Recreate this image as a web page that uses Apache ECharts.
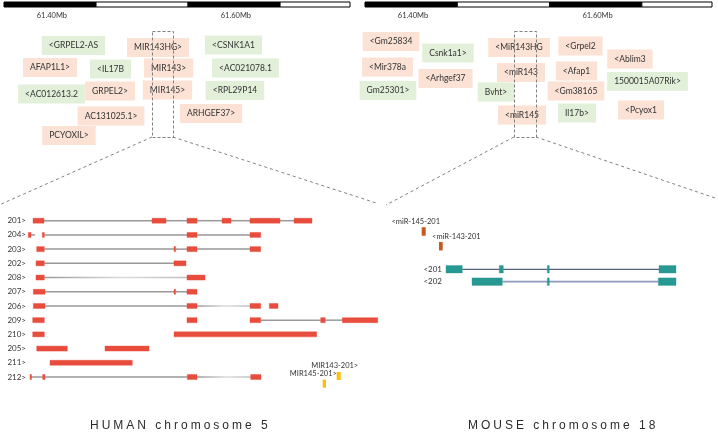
<!DOCTYPE html>
<html><head><meta charset="utf-8">
<script src="https://cdn.jsdelivr.net/npm/echarts@6/dist/echarts.min.js"></script>
<style>html,body{margin:0;padding:0;background:#fff}#c{width:718px;height:433px}</style>
</head><body><div id="c"></div>
<script>
// ================= DATA =================
// scale bar segments (kb on chromosome), alternating black / white
const scaleSegmentsKb = [[61348, 61448], [61448, 61548], [61548, 61648], [61648, 61724]];
const scaleTicksKb = [61400, 61600];

// neighbouring genes: [label, position (kb), display tier]
const humanGenes = [
  ['<GRPEL2-AS', 61423.5, 2.55], ['MIR143HG>', 61515.4, 2.75], ['<CSNK1A1', 61597.4, 2.5],
  ['AFAP1L1>', 61398.0, 4.75], ['<IL17B', 61463.7, 4.9], ['MIR143>', 61526.8, 4.8],
  ['<AC021078.1', 61610.4, 4.8], ['<AC012613.2', 61399.6, 7.4], ['GRPEL2>', 61463.2, 7.1],
  ['MIR145>', 61525.7, 7.0], ['<RPL29P14', 61599.0, 7.05], ['AC131025.1>', 61464.3, 9.6],
  ['ARHGEF37>', 61573.0, 9.35], ['PCYOXIL>', 61418.6, 11.55]
];
const mouseGenes = [
  ['<Gm25834', 61376.2, 2.15], ['Csnk1a1>', 61437.9, 3.3], ['<MiR143HG', 61514.9, 2.75],
  ['<Grpel2', 61581.5, 2.6], ['<Ablim3', 61635.1, 3.9], ['<Mir378a', 61372.4, 4.7],
  ['<Arhgef37', 61435.2, 5.85], ['<miR143', 61517.0, 5.25], ['<Afap1', 61577.2, 5.1],
  ['1500015A07Rik>', 61654.1, 6.15], ['Gm25301>', 61372.9, 7.05], ['Bvht>', 61489.9, 7.2],
  ['<Gm38165', 61576.6, 7.1], ['Il17b>', 61577.7, 9.3], ['<Pcyox1', 61647.1, 9.0],
  ['<miR145', 61518.1, 9.5]
];
// zoomed region (kb range, tier range)
const humanFocusKb = [61508.8, 61531.6];
const mouseFocusKb = [61509.4, 61533.3];
const focusTier = [1.1, 11.7];

// human transcripts (kb within zoomed region)
const humanTranscripts = ['201>', '204>', '203>', '202>', '208>', '207>', '206>', '209>', '210>', '205>', '211>', '212>'];
const humanExons = [
  [[0.5, 1.6], [12.4, 13.8], [15.9, 16.9], [19.4, 20.3], [22.2, 25.2], [26.6, 28.4]],
  [[0.03, 0.3], [1.43, 1.63], [15.9, 16.9], [22.2, 23.27]],
  [[0.87, 1.63], [14.6, 14.77], [15.9, 16.9], [22.2, 23.27]],
  [[0.8, 1.63], [14.6, 15.8]],
  [[0.8, 1.63], [15.9, 17.7]],
  [[0.53, 1.7], [14.6, 14.77], [15.9, 16.9]],
  [[0.53, 1.7], [15.9, 16.9], [22.2, 23.27], [24.13, 25.0]],
  [[0.47, 1.63], [15.9, 16.9], [22.2, 23.27], [29.27, 29.73], [31.43, 34.97]],
  [[0.47, 1.63], [14.6, 28.87]],
  [[0.87, 3.93], [7.7, 12.1]],
  [[2.2, 10.43]],
  [[0.2, 0.3], [1.47, 1.7], [15.93, 16.9], [22.27, 23.3]]
];
const humanIntrons = [
  [[1.6, 12.4], [13.8, 15.9], [16.9, 19.4], [20.3, 22.2], [25.2, 26.6]],
  [[0.3, 0.7], [1.63, 15.9], [16.9, 22.2]],
  [[1.63, 14.6], [14.77, 15.9], [16.9, 22.2]],
  [[1.63, 14.6]],
  [[1.63, 15.9]],
  [[1.7, 14.6], [14.77, 15.9]],
  [[1.7, 15.9], [16.9, 22.2]],
  [[23.27, 29.27], [29.73, 31.43]],
  [], [], [],
  [[0.3, 1.47], [1.7, 15.93], [16.9, 22.27]]
];
const fadeRows = ['208>', '206>', '212>'];
// human miRNAs: [label, start, end, track]
const humanMirnas = [['MIR143-201>', 30.87, 31.27, 10.93], ['MIR145-201>', 29.47, 29.8, 11.47]];

// mouse
const mouseMirnas = [['<miR-145-201', 0.17, 0.57, 1.64], ['<miR-143-201', 1.9, 2.27, 3.74]];
const mouseTranscripts = ['<201', '<202'];
const mouseTrack = [7.04, 8.81];
const mouseExons = [
  [[2.6, 4.23], [7.93, 8.33], [12.73, 12.93], [23.9, 25.6]],
  [[5.2, 8.23], [12.73, 12.93], [23.83, 25.6]]
];
const mouseIntrons = [[[4.23, 23.9]], [[8.23, 23.83]]];

const titles = ['HUMAN chromosome 5', 'MOUSE chromosome 18'];

// ================= CHART =================
const chart = echarts.init(document.getElementById('c'), null, {renderer: 'canvas'});
const PINK = '#FBE2D5', GREEN = '#E2EFD9', TXT = '#333333', FONT = 'Lato';
const EXON = '#E84C3D', TEAL = '#279892';

function hidden(extra) {
  return Object.assign({axisLine: {show: false}, axisTick: {show: false}, splitLine: {show: false}, axisLabel: {show: false}}, extra);
}
const kbMin = scaleSegmentsKb[0][0], kbMax = scaleSegmentsKb[scaleSegmentsKb.length - 1][1];
function scaleAxis(g) {
  return {type: 'value', gridIndex: g, min: kbMin, max: kbMax, axisLine: {show: false}, axisTick: {show: false}, splitLine: {show: false},
    axisLabel: {customValues: scaleTicksKb, formatter: v => (v / 1000).toFixed(2) + 'Mb', fontSize: 7.5, fontFamily: FONT, color: '#333', margin: 4.5}};
}
const scaleData = scaleSegmentsKb.map((s, i) => [s[0], s[1], i]);
function scaleSeries(ax) {
  return {type: 'custom', xAxisIndex: ax, yAxisIndex: ax, data: scaleData, encode: {x: [0, 1]},
    renderItem: (p, api) => {
      const a = api.coord([api.value(0), 1]), b = api.coord([api.value(1), 0]);
      return {type: 'rect', shape: {x: a[0], y: a[1], width: b[0] - a[0], height: b[1] - a[1]},
        style: {fill: api.value(2) % 2 ? '#fff' : '#000', stroke: '#000', lineWidth: 1}};
    }};
}
function geneSeries(genes, ax, isMouse) {
  return {type: 'custom', xAxisIndex: ax, yAxisIndex: ax, z: 2,
    data: genes.map(g => [g[1], g[2]]), encode: {x: 0, y: 1},
    renderItem: (p, api) => {
      const c = api.coord([api.value(0), api.value(1)]);
      const name = genes[p.dataIndex][0];
      const minus = name.charAt(0) === '<';
      return {type: 'text', x: c[0], y: c[1], style: {text: name, fontSize: 8.5, fontFamily: FONT, fill: TXT,
        align: 'center', verticalAlign: 'middle', lineHeight: 10, padding: [4.5, 7],
        backgroundColor: (minus === isMouse) ? PINK : GREEN}};
    }};
}
function focusSeries(kb, ax) {
  return {type: 'custom', xAxisIndex: ax, yAxisIndex: ax, z: 5, data: [[kb[0], kb[1], focusTier[0], focusTier[1]]], encode: {x: [0, 1], y: [2, 3]},
    renderItem: (p, api) => {
      const a = api.coord([api.value(0), api.value(2)]), b = api.coord([api.value(1), api.value(3)]);
      return {type: 'rect', shape: {x: Math.round(a[0]) + 0.5, y: Math.round(a[1]) + 0.5, width: Math.round(b[0] - a[0]), height: Math.round(b[1] - a[1])},
        style: {fill: 'none', stroke: '#7f7f7f', lineWidth: 1, lineDash: [3, 2]}};
    }};
}

// flatten human data
const hExonData = [], hIntronData = [];
humanExons.forEach((list, r) => list.forEach(e => hExonData.push([e[0], e[1], r])));
humanIntrons.forEach((list, r) => list.forEach((e, k) => hIntronData.push([e[0], e[1], r, (fadeRows.includes(humanTranscripts[r]) && k === list.length - 1) ? 1 : 0])));
const mExonData = [], mIntronData = [];
mouseExons.forEach((list, r) => list.forEach(e => mExonData.push([e[0], e[1], mouseTrack[r]])));
mouseIntrons.forEach((list, r) => list.forEach(e => mIntronData.push([e[0], e[1], mouseTrack[r], r])));
const mouseLabelAnchor = Math.min(...mouseExons.map(l => l[0][0]));

function spaced(s) { return s.split('').join('\u2005'); }

const option = {
  animation: false,
  backgroundColor: '#fff',
  title: [
    {text: spaced(titles[0]), left: 90, top: 420, textStyle: {fontSize: 12, fontWeight: 'normal', fontFamily: 'Liberation Sans', color: '#2b2b2b'}, padding: 0},
    {text: spaced(titles[1]), left: 468, top: 420, textStyle: {fontSize: 12, fontWeight: 'normal', fontFamily: 'Liberation Sans', color: '#2b2b2b'}, padding: 0}
  ],
  grid: [
    {left: 4, top: 2, width: 346, height: 5},
    {left: 365, top: 2, width: 347, height: 5},
    {left: 4, top: 20, width: 346, height: 130},
    {left: 365, top: 20, width: 347, height: 130},
    {left: 28, top: 213.6, width: 350, height: 170.5},
    {left: 420, top: 220, width: 260, height: 70}
  ],
  xAxis: [
    scaleAxis(0), scaleAxis(1),
    hidden({type: 'value', gridIndex: 2, min: kbMin, max: kbMax}),
    hidden({type: 'value', gridIndex: 3, min: kbMin, max: kbMax}),
    hidden({type: 'value', gridIndex: 4, min: 0, max: 35}),
    hidden({type: 'value', gridIndex: 5, min: 0, max: 26})
  ],
  yAxis: [
    hidden({type: 'value', gridIndex: 0, min: 0, max: 1}),
    hidden({type: 'value', gridIndex: 1, min: 0, max: 1}),
    hidden({type: 'value', gridIndex: 2, min: 0, max: 13, inverse: true}),
    hidden({type: 'value', gridIndex: 3, min: 0, max: 13, inverse: true}),
    {type: 'category', gridIndex: 4, data: humanTranscripts, inverse: true, axisLine: {show: false}, axisTick: {show: false}, splitLine: {show: false},
      axisLabel: {fontSize: 8, fontFamily: FONT, color: '#333', margin: 2, interval: 0}},
    hidden({type: 'value', gridIndex: 4, min: -0.5, max: 11.5, inverse: true}),
    hidden({type: 'value', gridIndex: 5, min: 0, max: 10, inverse: true})
  ],
  series: [
    scaleSeries(0), scaleSeries(1),
    geneSeries(humanGenes, 2, false), geneSeries(mouseGenes, 3, true),
    focusSeries(humanFocusKb, 2), focusSeries(mouseFocusKb, 3),
    // human introns
    {type: 'custom', xAxisIndex: 4, yAxisIndex: 4, z: 2, data: hIntronData, encode: {x: [0, 1], y: 2},
      renderItem: (p, api) => {
        const a = api.coord([api.value(0), api.value(2)]), b = api.coord([api.value(1), api.value(2)]);
        const fade = api.value(3) === 1;
        const stroke = fade ? {type: 'linear', x: 0, y: 0, x2: 1, y2: 0, colorStops: [{offset: 0, color: '#9a9a9a'}, {offset: 0.55, color: '#dcdcdc'}, {offset: 1, color: '#bdbdbd'}]} : '#999';
        return {type: 'rect', shape: {x: a[0], y: a[1] - 0.75, width: b[0] - a[0], height: 1.5}, style: {fill: stroke}};
      }},
    // human exons
    {type: 'custom', xAxisIndex: 4, yAxisIndex: 4, z: 3, data: hExonData, encode: {x: [0, 1], y: 2},
      renderItem: (p, api) => {
        const a = api.coord([api.value(0), api.value(2)]), b = api.coord([api.value(1), api.value(2)]);
        return {type: 'rect', shape: {x: a[0], y: a[1] - 2.5, width: Math.max(1.5, b[0] - a[0]), height: 5},
          style: {fill: EXON, stroke: 'rgba(232,76,61,0.4)', lineWidth: 1}};
      }},
    // human miRNAs
    {type: 'custom', xAxisIndex: 4, yAxisIndex: 5, z: 3, data: humanMirnas.map(m => [m[1], m[2], m[3]]), encode: {x: [0, 1], y: 2},
      renderItem: (p, api) => {
        const a = api.coord([api.value(0), api.value(2)]), b = api.coord([api.value(1), api.value(2)]);
        const dx = [-4, -11][p.dataIndex];
        return {type: 'group', children: [
          {type: 'rect', shape: {x: a[0], y: a[1] - 4, width: b[0] - a[0], height: 8}, style: {fill: '#FFC000'}},
          {type: 'text', x: (a[0] + b[0]) / 2 + dx, y: a[1] - 6, style: {text: humanMirnas[p.dataIndex][0], fontSize: 7.5, fontFamily: FONT, fill: TXT, align: 'center', verticalAlign: 'bottom'}}
        ]};
      }},
    // mouse miRNAs
    {type: 'custom', xAxisIndex: 5, yAxisIndex: 6, z: 3, data: mouseMirnas.map(m => [m[1], m[2], m[3]]), encode: {x: [0, 1], y: 2},
      renderItem: (p, api) => {
        const a = api.coord([api.value(0), api.value(2)]), b = api.coord([api.value(1), api.value(2)]);
        const dx = [-8, 15.5][p.dataIndex];
        return {type: 'group', children: [
          {type: 'rect', shape: {x: a[0], y: a[1] - 4.25, width: b[0] - a[0], height: 8.5}, style: {fill: '#C65A1E'}},
          {type: 'text', x: (a[0] + b[0]) / 2 + dx, y: a[1] - 6, style: {text: mouseMirnas[p.dataIndex][0], fontSize: 7.5, fontFamily: FONT, fill: TXT, align: 'center', verticalAlign: 'bottom'}}
        ]};
      }},
    // mouse introns
    {type: 'custom', xAxisIndex: 5, yAxisIndex: 6, z: 2, data: mIntronData, encode: {x: [0, 1], y: 2},
      renderItem: (p, api) => {
        const a = api.coord([api.value(0), api.value(2)]), b = api.coord([api.value(1), api.value(2)]);
        const second = api.value(3) === 1;
        return {type: 'rect', shape: {x: a[0], y: a[1] - (second ? 0.9 : 0.6), width: b[0] - a[0], height: second ? 1.8 : 1.2},
          style: {fill: second ? '#8e9cc0' : '#55627f'}};
      }},
    // mouse exons
    {type: 'custom', xAxisIndex: 5, yAxisIndex: 6, z: 3, data: mExonData, encode: {x: [0, 1], y: 2},
      renderItem: (p, api) => {
        const a = api.coord([api.value(0), api.value(2)]), b = api.coord([api.value(1), api.value(2)]);
        return {type: 'rect', shape: {x: a[0], y: a[1] - 3.75, width: Math.max(1.8, b[0] - a[0]), height: 7.5},
          style: {fill: TEAL, stroke: 'rgba(39,152,146,0.35)', lineWidth: 1}};
      }},
    // mouse transcript labels
    {type: 'custom', xAxisIndex: 5, yAxisIndex: 6, z: 3, data: mouseTranscripts.map((t, i) => [mouseLabelAnchor, mouseTrack[i]]), encode: {x: 0, y: 1},
      renderItem: (p, api) => {
        const c = api.coord([api.value(0), api.value(1)]);
        return {type: 'text', x: c[0] - 4, y: c[1], style: {text: mouseTranscripts[p.dataIndex], fontSize: 8, fontFamily: FONT, fill: TXT, align: 'right', verticalAlign: 'middle'}};
      }}
  ]
};
chart.setOption(option);

// dashed connectors from the zoom boxes to the detail panels
function px(g, v) { return chart.convertToPixel({gridIndex: g}, v); }
const hBL = px(2, [humanFocusKb[0], focusTier[1]]), hBR = px(2, [humanFocusKb[1], focusTier[1]]);
const mBL = px(3, [mouseFocusKb[0], focusTier[1]]), mBR = px(3, [mouseFocusKb[1], focusTier[1]]);
const hG = option.grid[4], mG = option.grid[5];
const W = chart.getWidth();
const dash = {stroke: '#808080', lineWidth: 1, lineDash: [3, 3], fill: null};
chart.setOption({graphic: [
  {type: 'line', shape: {x1: hBL[0], y1: hBL[1], x2: 0, y2: hG.top - 9}, style: dash, silent: true},
  {type: 'line', shape: {x1: hBR[0], y1: hBR[1], x2: hG.left + hG.width, y2: hG.top - 10}, style: dash, silent: true},
  {type: 'line', shape: {x1: mBL[0], y1: mBL[1], x2: mG.left - 34, y2: mG.top - 15}, style: dash, silent: true},
  {type: 'line', shape: {x1: mBR[0], y1: mBR[1], x2: W, y2: mG.top - 21}, style: dash, silent: true}
]});
</script>
</body></html>
